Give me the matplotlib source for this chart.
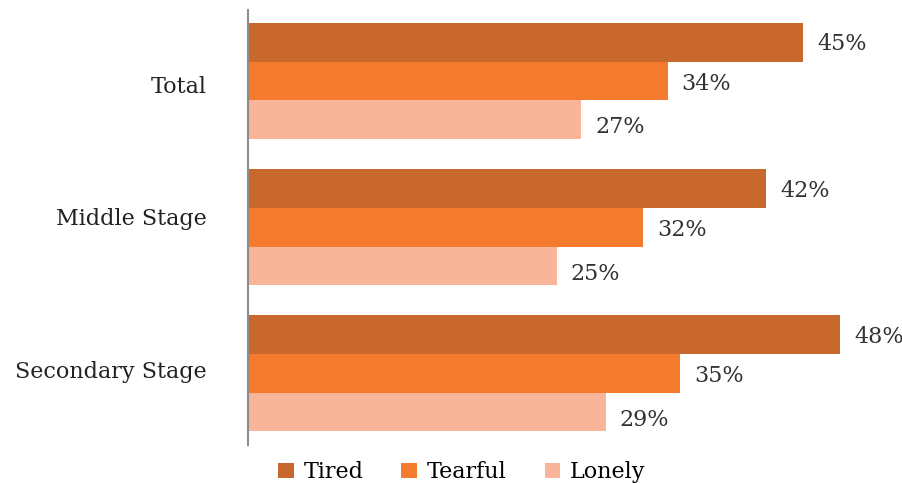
import numpy as np
import matplotlib.pyplot as plt

# Data
categories = ['Total', 'Middle Stage', 'Secondary Stage']
series = ['Tired', 'Tearful', 'Lonely']
tired = [45, 42, 48]
tearful = [34, 32, 35]
lonely = [27, 25, 29]
colors = ['#C8682C', '#F47A2E', '#F9B59A']

plt.rcParams['font.family'] = 'DejaVu Serif'

fig = plt.figure(figsize=(9.02, 4.83), dpi=100)
ax = fig.add_axes([248 / 902, 38 / 483, 654 / 902, 435 / 483])

y = np.arange(len(categories))
h = 0.265
values = [tired, tearful, lonely]
label_dy = [-1.5, -2, -5.5]
for i, (name, vals, c) in enumerate(zip(series, values, colors)):
    pos = y + (i - 1) * h
    ax.barh(pos, vals, height=h, color=c, label=name)
    for p, v in zip(pos, vals):
        ax.annotate(f'{v}%', (v, p), xytext=(10, label_dy[i]), textcoords='offset points',
                    va='center', ha='left', fontsize=16, color='#333333')

ax.set_xlim(0, 654 / 12.34)
ax.set_ylim(2.49, -0.486)
ax.set_yticks([])
# category labels, slightly shifted as in the original
cat_dy = [-4, 6, 1]
for yy, name, dy in zip(y, categories, cat_dy):
    ax.annotate(name, (0, yy), xytext=(-30, dy), textcoords='offset points',
                ha='right', va='center', fontsize=16, color='#222222')
ax.set_xticks([])
for s in ['top', 'right', 'bottom']:
    ax.spines[s].set_visible(False)
ax.spines['left'].set_color('#8c8c8c')
ax.spines['left'].set_linewidth(1.5)

fig.legend(loc='lower center', bbox_to_anchor=(0.512, -0.042), ncol=3, frameon=False,
           fontsize=16, handlelength=0.7, handleheight=0.7, columnspacing=1.7,
           handletextpad=0.45)

fig.savefig('out.png', dpi=100)
